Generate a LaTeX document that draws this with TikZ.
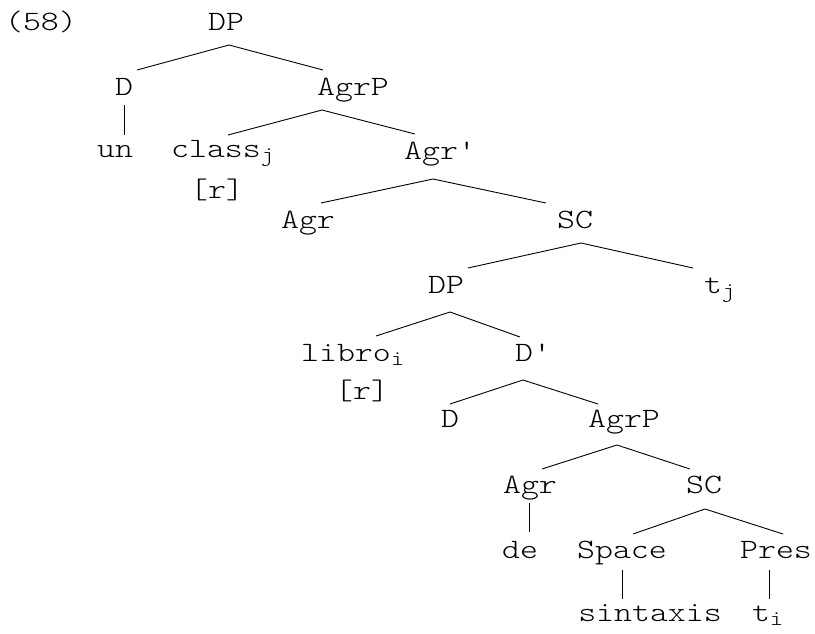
\documentclass[tikz,border=0pt]{standalone}
\usepackage{fontspec}
\setmonofont{Latin Modern Mono Light}[FakeStretch=1.22]
\newcommand{\lsub}[1]{\rlap{\raisebox{-4pt}{\fontsize{21}{21}\selectfont #1}}}
\begin{document}
\begin{tikzpicture}[x=1pt,y=-1pt,
  lab/.style={anchor=base, inner sep=0pt, font=\ttfamily\fontsize{28}{30}\selectfont},
  br/.style={line width=0.9pt}]
\useasboundingbox[fill=white] (0,0) rectangle (815,633);
% labels
\node[lab] (ex) at (41,30) {(58)};
\node[lab] (dp1) at (226,30) {DP};
\node[lab] (d1) at (124,95) {D};
\node[lab] (agrp1) at (353,95) {AgrP};
\node[lab] (un) at (115,157) {un};
\node[lab] (class) at (216,157) {class\lsub{j}};
\node[lab] (r1) at (217,198) {[r]};
\node[lab] (agrbar) at (440,159) {Agr'};
\node[lab] (agr1) at (308,228) {Agr};
\node[lab] (sc1) at (575,228) {SC};
\node[lab] (dp2) at (446,293) {DP};
\node[lab] (tj) at (713,293) {t\lsub{j}};
\node[lab] (libro) at (346,361) {libro\lsub{i}};
\node[lab] (r2) at (362,399) {[r]};
\node[lab] (dbar) at (533,361) {D'};
\node[lab] (d2) at (450,427) {D};
\node[lab] (agrp2) at (624,427) {AgrP};
\node[lab] (agr2) at (530,493) {Agr};
\node[lab] (sc2) at (704,493) {SC};
\node[lab] (de) at (520,558) {de};
\node[lab] (space) at (622,558) {Space};
\node[lab] (pres) at (776,558) {Pres};
\node[lab] (sintaxis) at (650,621) {sintaxis};
\node[lab] (ti) at (761,621) {t\lsub{i}};
% branch points
\coordinate (dp1-b) at (229,45);
\coordinate (d1-t) at (137,70);
\coordinate (agrp1-t) at (323,70);
\coordinate (d1-b) at (124,105);
\coordinate (un-t) at (124,135);
\coordinate (agrp1-b) at (322,110);
\coordinate (class-t) at (228,135);
\coordinate (agrbar-t) at (415,134);
\coordinate (agrbar-b) at (433,179);
\coordinate (agr1-t) at (321,203);
\coordinate (sc1-t) at (546,203);
\coordinate (sc1-b) at (581,243);
\coordinate (dp2-t) at (468,268);
\coordinate (tj-t) at (693,268);
\coordinate (dp2-b) at (450,312);
\coordinate (libro-t) at (376,336);
\coordinate (dbar-t) at (520,337);
\coordinate (dbar-b) at (523,380);
\coordinate (d2-t) at (450,404);
\coordinate (agrp2-t) at (598,404);
\coordinate (agrp2-b) at (617,445);
\coordinate (agr2-t) at (542,469);
\coordinate (sc2-t) at (690,469);
\coordinate (agr2-b) at (529,503);
\coordinate (de-t) at (529,532);
\coordinate (sc2-b) at (705,509);
\coordinate (space-t) at (633,534);
\coordinate (pres-t) at (783,534);
\coordinate (space-b) at (622,570);
\coordinate (sintaxis-t) at (622,599);
\coordinate (pres-b) at (769,570);
\coordinate (ti-t) at (769,599);
% connectors
\draw[br] (d1-t) -- (dp1-b) -- (agrp1-t);
\draw[br] (d1-b) -- (un-t);
\draw[br] (class-t) -- (agrp1-b) -- (agrbar-t);
\draw[br] (agr1-t) -- (agrbar-b) -- (sc1-t);
\draw[br] (dp2-t) -- (sc1-b) -- (tj-t);
\draw[br] (libro-t) -- (dp2-b) -- (dbar-t);
\draw[br] (d2-t) -- (dbar-b) -- (agrp2-t);
\draw[br] (agr2-t) -- (agrp2-b) -- (sc2-t);
\draw[br] (agr2-b) -- (de-t);
\draw[br] (space-t) -- (sc2-b) -- (pres-t);
\draw[br] (space-b) -- (sintaxis-t);
\draw[br] (pres-b) -- (ti-t);
\end{tikzpicture}
\end{document}
